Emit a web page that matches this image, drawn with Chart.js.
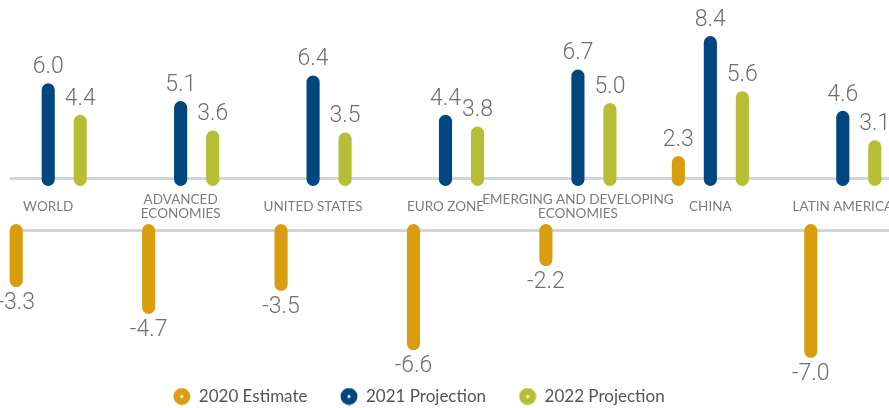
<!DOCTYPE html>
<html>
<head>
<meta charset="utf-8">
<script src="https://cdn.jsdelivr.net/npm/chart.js"></script>
<style>
  html, body { margin: 0; padding: 0; background: #fff; overflow: hidden; }
  .wrap { position: relative; width: 889px; height: 408px; overflow: hidden; }
  .rule { position: absolute; left: 10px; right: 0; height: 3px; background: #d2d6d9; }
  canvas { position: absolute; }
</style>
</head>
<body>
<div class="wrap">
  <div class="rule" style="top:177px"></div>
  <div class="rule" style="top:229px"></div>
  <canvas id="topChart" width="927" height="219" style="left:-18px;top:0"></canvas>
  <canvas id="bottomChart" width="980" height="191" style="left:-71px;top:224px"></canvas>
</div>
<script>
// GDP growth, %
const categories = [
  'WORLD',
  ['ADVANCED', 'ECONOMIES'],
  'UNITED STATES',
  'EURO ZONE',
  ['EMERGING AND DEVELOPING', 'ECONOMIES'],
  'CHINA',
  'LATIN AMERICA'
];
const estimate2020 = [-3.3, -4.7, -3.5, -6.6, -2.2, 2.3, -7.0];
const projection2021 = [6.0, 5.1, 6.4, 4.4, 6.7, 8.4, 4.6];
const projection2022 = [4.4, 3.6, 3.5, 3.8, 5.0, 5.6, 3.1];

const seriesNames = ['2020 Estimate', '2021 Projection', '2022 Projection'];
const seriesValues = [estimate2020, projection2021, projection2022];
const seriesColors = ['#d89e10', '#00467f', '#b6be35'];

// value above / below each bar
const valueLabels = {
  id: 'valueLabels',
  afterDatasetsDraw(chart) {
    const ctx = chart.ctx;
    ctx.save();
    ctx.font = '300 23px Roboto';
    ctx.fillStyle = '#6e6e6e';
    ctx.textAlign = 'center';
    ctx.textBaseline = 'middle';
    chart.data.datasets.forEach((ds, i) => {
      chart.getDatasetMeta(i).data.forEach((bar, j) => {
        const v = ds.data[j];
        if (v === null) return;
        ctx.fillText(v.toFixed(1), bar.x, v > 0 ? bar.y - 16 : bar.y + 16);
      });
    });
    ctx.restore();
  }
};

// legend dot: filled circle with a small white centre
function dotIcon(color) {
  const c = document.createElement('canvas');
  c.width = 18;
  c.height = 18;
  const g = c.getContext('2d');
  g.fillStyle = color;
  g.beginPath();
  g.arc(9, 9, 8.5, 0, Math.PI * 2);
  g.fill();
  g.fillStyle = '#fff';
  g.beginPath();
  g.arc(9, 9, 1.6, 0, Math.PI * 2);
  g.fill();
  return c;
}
const icons = seriesColors.map(dotIcon);

function makeDatasets(keep) {
  return seriesValues.map((arr, i) => ({
    label: seriesNames[i],
    data: arr.map(v => (keep(v) ? v : null)),
    backgroundColor: seriesColors[i]
  }));
}

const barStyle = {
  categoryPercentage: 0.725,
  barPercentage: 0.41,
  borderRadius: 7,
  borderSkipped: false,
  clip: false
};

// positive part, category names underneath
// (bars start a little under the grey rule, as in the original)
new Chart(document.getElementById('topChart'), {
  type: 'bar',
  data: { labels: categories, datasets: makeDatasets(v => v > 0) },
  options: {
    responsive: false,
    devicePixelRatio: 1,
    animation: false,
    datasets: { bar: { ...barStyle, base: 0.78 } },
    plugins: { legend: { display: false }, tooltip: { enabled: false } },
    scales: {
      x: {
        grid: { display: false },
        border: { display: false },
        ticks: {
          color: '#7b7c7f',
          font: { family: 'Lato', size: 13.5, lineHeight: '14px' },
          padding: 13,
          maxRotation: 0,
          autoSkip: false,
          crossAlign: 'center'
        },
        afterFit(s) { s.height = 40; }
      },
      y: { display: false, min: 1.136, max: 10.236 }
    }
  },
  plugins: [valueLabels]
});

// negative part + legend
new Chart(document.getElementById('bottomChart'), {
  type: 'bar',
  data: { labels: categories, datasets: makeDatasets(v => v < 0) },
  options: {
    responsive: false,
    devicePixelRatio: 1,
    animation: false,
    datasets: { bar: barStyle },
    plugins: {
      tooltip: { enabled: false },
      legend: {
        position: 'bottom',
        labels: {
          usePointStyle: true,
          padding: 33,
          color: '#555555',
          font: { family: 'Lato', size: 17 },
          generateLabels(chart) {
            return chart.data.datasets.map((ds, i) => ({
              text: ds.label,
              pointStyle: icons[i],
              fillStyle: ds.backgroundColor,
              strokeStyle: ds.backgroundColor,
              lineWidth: 0,
              hidden: false,
              datasetIndex: i,
              fontColor: '#555555'
            }));
          }
        }
      }
    },
    scales: {
      x: { display: false },
      y: {
        min: -6.85,
        max: 0,
        grid: { display: false },
        border: { display: false },
        ticks: { display: false },
        afterFit(s) { s.width = 53; }
      }
    }
  },
  plugins: [valueLabels]
});
</script>
</body>
</html>
